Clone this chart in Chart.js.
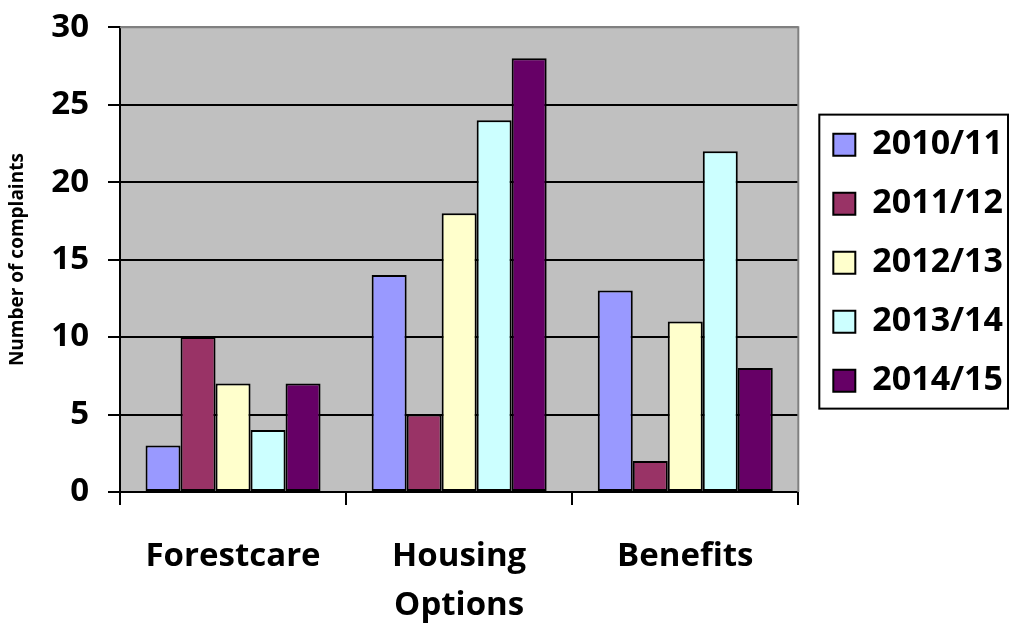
<!DOCTYPE html>
<html>
<head>
<meta charset="utf-8">
<script src="https://cdn.jsdelivr.net/npm/chart.js@4"></script>
<style>
  html, body { margin: 0; padding: 0; background: #fff; }
  #wrap { width: 1011px; height: 625px; }
</style>
</head>
<body>
<div id="wrap"><canvas id="c"></canvas></div>
<script>
// 資料
const categories = ['Forestcare', ['Housing', 'Options'], 'Benefits'];
const seriesNames = ['2010/11', '2011/12', '2012/13', '2013/14', '2014/15'];
const v2010 = [3, 14, 13];
const v2011 = [10, 5, 2];
const v2012 = [7, 18, 11];
const v2013 = [4, 24, 22];
const v2014 = [7, 28, 8];
const yTicks = [0, 5, 10, 15, 20, 25, 30];

const colors = ['#9999FF', '#993366', '#FFFFCC', '#CCFFFF', '#660066'];
const FONT = 'Open Sans';
const LEGEND_GAP = 10;   // 圖區與圖例之間
const LEGEND_DROP = 3;

// 灰色背景與邊框
const plotBg = {
    id: 'plotBg',
    afterLayout(chart) {
        // 把圖例往右、往下移一點
        const lg = chart.legend;
        lg.left += LEGEND_GAP; lg.right += LEGEND_GAP;
        lg.top += LEGEND_DROP; lg.bottom += LEGEND_DROP;
        (lg.legendHitBoxes || []).forEach(h => { h.left += LEGEND_GAP; h.top += LEGEND_DROP; });
    },
    beforeDraw(chart) {
        const a = chart.chartArea, ctx = chart.ctx;
        ctx.save();
        ctx.fillStyle = '#C0C0C0';
        ctx.fillRect(a.left, a.top, a.right - a.left, a.bottom - a.top);
        ctx.restore();
    },
    afterDraw(chart) {
        const a = chart.chartArea, ctx = chart.ctx;
        ctx.save();
        ctx.strokeStyle = '#808080';
        ctx.lineWidth = 2;
        ctx.beginPath();
        ctx.moveTo(a.left, a.top);
        ctx.lineTo(a.right, a.top);
        ctx.lineTo(a.right, a.bottom);
        ctx.stroke();
        // 圖例外框
        const hb = chart.legend.legendHitBoxes;
        if (hb && hb.length) {
            const x0 = a.right + 21;
            const last = hb[hb.length - 1];
            const y0 = hb[0].top - 13;
            const y1 = last.top + last.height + 11;
            ctx.strokeStyle = '#000';
            ctx.lineWidth = 2;
            ctx.strokeRect(x0, y0, 1008 - x0, y1 - y0);
        }
        ctx.restore();
    }
};

const data = [v2010, v2011, v2012, v2013, v2014];

new Chart(document.getElementById('c'), {
    type: 'bar',
    data: {
        labels: categories,
        datasets: seriesNames.map((n, i) => ({
            label: n,
            data: data[i],
            backgroundColor: colors[i],
            borderColor: '#000',
            borderWidth: 2,
            borderSkipped: false,
            categoryPercentage: 0.774,
            barPercentage: 1
        }))
    },
    options: {
        responsive: true,
        maintainAspectRatio: false,
        animation: false,
        layout: { padding: { top: 0, right: 8, left: 0, bottom: 0 } },
        plugins: {
            tooltip: { enabled: false },
            legend: {
                position: 'right',
                align: 'center',
                fullSize: false,
                labels: {
                    color: '#000',
                    boxWidth: 22,
                    boxHeight: 22,
                    padding: 25,
                    font: { family: FONT, size: 34, weight: 'bold' }
                }
            }
        },
        scales: {
            x: {
                afterFit(s) { s.height = 133; },
                grid: {
                    drawOnChartArea: false,
                    tickLength: 13,
                    tickColor: '#000',
                    lineWidth: 2,
                    offset: true
                },
                border: { color: '#000', width: 2 },
                ticks: {
                    color: '#000',
                    padding: 27,
                    maxRotation: 0,
                    font: { family: FONT, size: 33, weight: 'bold', lineHeight: 1.48 }
                }
            },
            y: {
                min: 0,
                max: 30,
                afterFit(s) { s.width = 120; },
                afterBuildTicks(s) { s.ticks = yTicks.map(v => ({ value: v })); },
                grid: {
                    color: ctx => ctx.tick && ctx.tick.value === 30 ? '#808080' : '#000',
                    lineWidth: 2,
                    tickLength: 12,
                    tickColor: '#000'
                },
                border: { color: '#000', width: 2 },
                ticks: {
                    color: '#000',
                    padding: 19,
                    font: { family: FONT, size: 33, weight: 'bold', lineHeight: 0.5 }
                },
                title: {
                    display: true,
                    text: 'Number of complaints',
                    color: '#000',
                    padding: { top: 6, bottom: 0 },
                    font: { family: FONT, size: 19, weight: 'bold' }
                }
            }
        }
    },
    plugins: [plotBg]
});
</script>
</body>
</html>
